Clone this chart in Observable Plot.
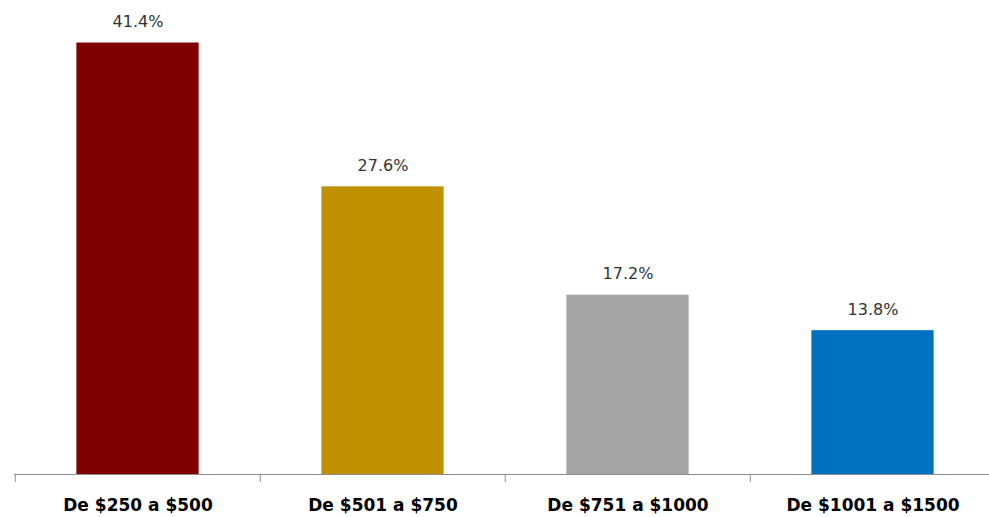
<!DOCTYPE html>
<html>
<head>
<meta charset="utf-8">
<script src="https://cdn.jsdelivr.net/npm/d3@7"></script>
<script src="https://cdn.jsdelivr.net/npm/@observablehq/plot@0.6"></script>
<style>
  html, body { margin: 0; padding: 0; background: #ffffff; }
  #chart { width: 989px; height: 517px; overflow: hidden; }
</style>
</head>
<body>
<div id="chart"></div>
<script>
const categories = ["De $250 a $500", "De $501 a $750", "De $751 a $1000", "De $1001 a $1500"];
const values = [41.4, 27.6, 17.2, 13.8];
const valueLabels = ["41.4%", "27.6%", "17.2%", "13.8%"];
const colors = ["#800000", "#BF9000", "#A5A5A5", "#0070C0"];

const data = categories.map((c, i) => ({cat: c, value: values[i], label: valueLabels[i]}));

const xRange = [14, 996];
const bw = (xRange[1] - xRange[0]) / categories.length;

const chart = Plot.plot({
  width: 989,
  height: 517,
  marginTop: 5,
  marginBottom: 43,
  marginLeft: 14,
  marginRight: 0,
  style: {background: "transparent", overflow: "visible"},
  x: {domain: categories, range: xRange, padding: 0, label: null},
  y: {domain: [0, 45], axis: null},
  color: {domain: categories, range: colors},
  marks: [
    Plot.barY(data, {x: "cat", y: "value", fill: "cat", insetLeft: bw * 0.25, insetRight: bw * 0.25}),
    Plot.ruleY([0], {stroke: "#8c8c8c", strokeWidth: 1.2}),
    Plot.axisX({tickSize: 8, tickFormat: null, label: null, dx: -bw / 2, stroke: "#8c8c8c", strokeOpacity: 1}),
    Plot.axisX({tickSize: 0, tickPadding: 24, label: null, fontSize: 17, fontWeight: "bold", fontFamily: "DejaVu Sans", fill: "#000"}),
    Plot.text(data, {x: "cat", y: "value", text: "label", lineAnchor: "bottom", dy: -16,
      fontSize: 16, fontFamily: "DejaVu Sans", fill: "#333"})
  ]
});
document.getElementById("chart").appendChild(chart);
</script>
</body>
</html>
